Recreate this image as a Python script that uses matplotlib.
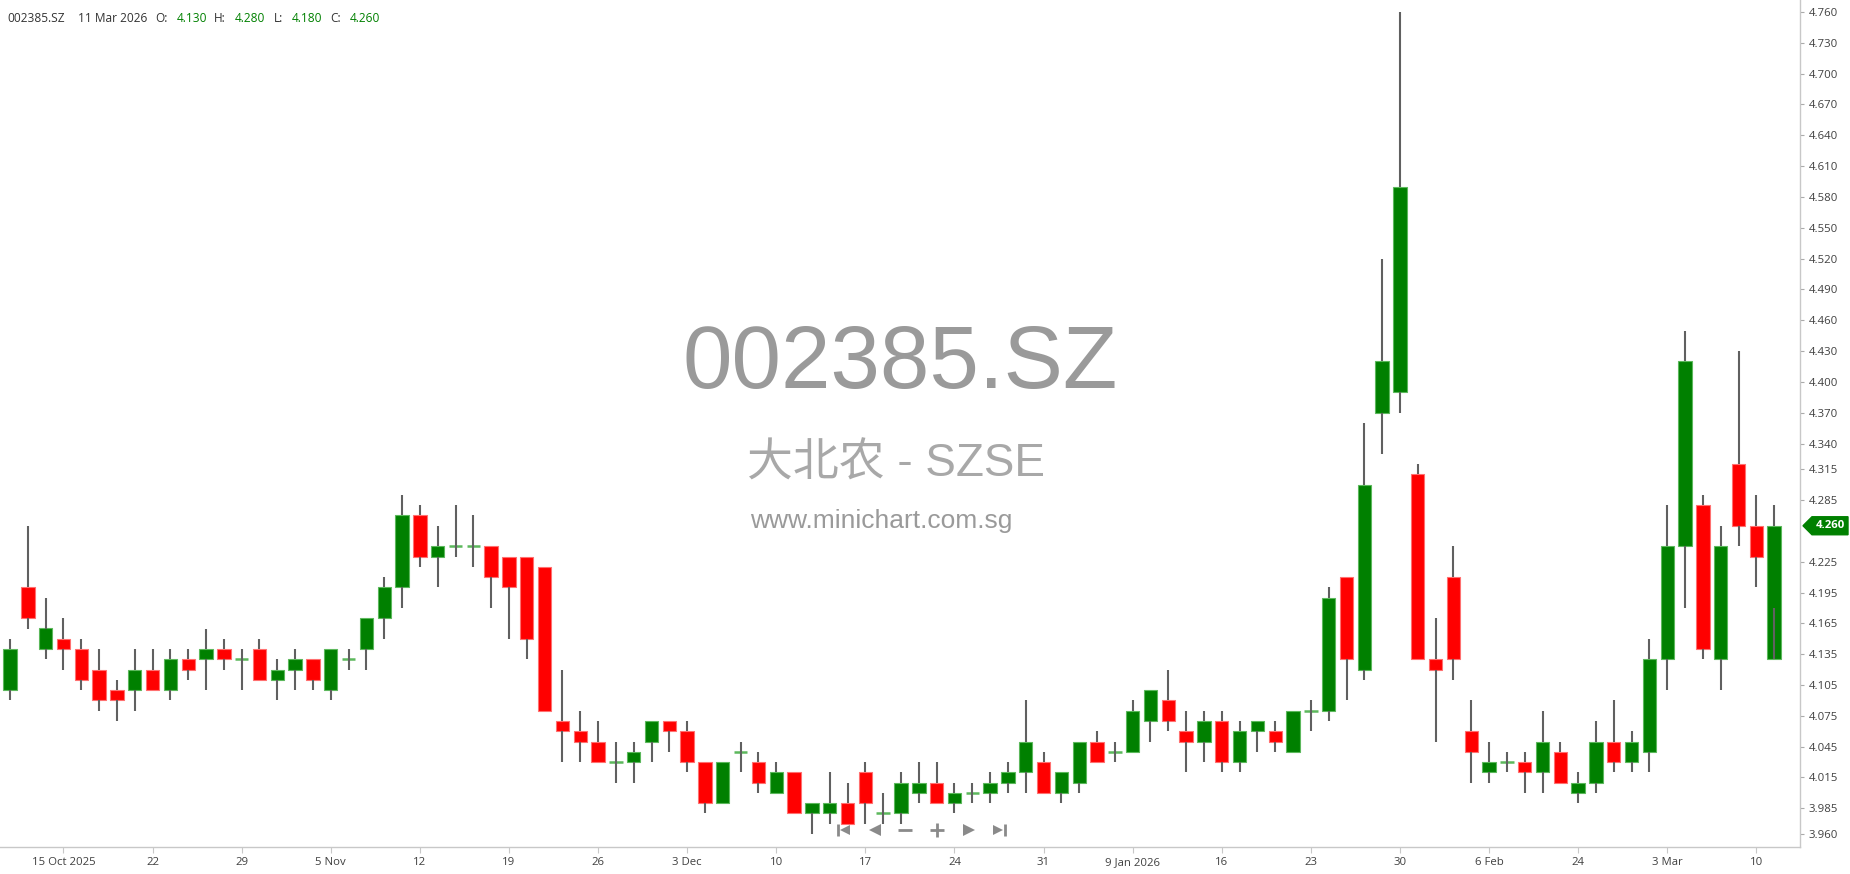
import matplotlib
matplotlib.use("Agg")
import matplotlib.pyplot as plt
import matplotlib.transforms as mtransforms
from matplotlib.patches import Polygon, Rectangle
from matplotlib.lines import Line2D

# ---------------- data ----------------
symbol = "002385.SZ"
company = "大北农 - SZSE"
site = "www.minichart.com.sg"
last_date = "11 Mar 2026"

opens = [4.10, 4.20, 4.14, 4.15, 4.14, 4.12, 4.10, 4.10, 4.12, 4.10,
         4.13, 4.13, 4.14, 4.13, 4.14, 4.11, 4.12, 4.13, 4.10, 4.13,
         4.14, 4.17, 4.20, 4.27, 4.23, 4.24, 4.24, 4.24, 4.23, 4.23,
         4.22, 4.07, 4.06, 4.05, 4.03, 4.03, 4.05, 4.07, 4.06, 4.03,
         3.99, 4.04, 4.03, 4.00, 4.02, 3.98, 3.98, 3.99, 4.02, 3.98,
         3.98, 4.00, 4.01, 3.99, 4.00, 4.00, 4.01, 4.02, 4.03, 4.00,
         4.01, 4.05, 4.04, 4.04, 4.07, 4.09, 4.06, 4.05, 4.07, 4.03,
         4.06, 4.06, 4.04, 4.08, 4.08, 4.21, 4.12, 4.37, 4.39, 4.31,
         4.13, 4.21, 4.06, 4.02, 4.03, 4.03, 4.02, 4.04, 4.00, 4.01,
         4.05, 4.03, 4.04, 4.13, 4.24, 4.28, 4.13, 4.32, 4.26, 4.13]
highs = [4.15, 4.26, 4.19, 4.17, 4.15, 4.14, 4.11, 4.14, 4.14, 4.14,
         4.14, 4.16, 4.15, 4.14, 4.15, 4.13, 4.14, 4.13, 4.14, 4.14,
         4.17, 4.21, 4.29, 4.28, 4.26, 4.28, 4.27, 4.24, 4.23, 4.23,
         4.22, 4.12, 4.08, 4.07, 4.05, 4.05, 4.07, 4.07, 4.07, 4.03,
         4.03, 4.05, 4.04, 4.03, 4.02, 3.99, 4.02, 4.01, 4.03, 4.00,
         4.02, 4.03, 4.03, 4.01, 4.01, 4.02, 4.03, 4.09, 4.04, 4.02,
         4.05, 4.06, 4.05, 4.09, 4.10, 4.12, 4.08, 4.08, 4.08, 4.07,
         4.07, 4.07, 4.08, 4.09, 4.20, 4.21, 4.36, 4.52, 4.76, 4.32,
         4.17, 4.24, 4.09, 4.05, 4.04, 4.04, 4.08, 4.05, 4.02, 4.07,
         4.09, 4.06, 4.15, 4.28, 4.45, 4.29, 4.26, 4.43, 4.29, 4.28]
lows = [4.09, 4.16, 4.13, 4.12, 4.10, 4.08, 4.07, 4.08, 4.10, 4.09,
        4.11, 4.10, 4.12, 4.10, 4.11, 4.09, 4.10, 4.10, 4.09, 4.12,
        4.12, 4.15, 4.18, 4.22, 4.20, 4.23, 4.22, 4.18, 4.15, 4.13,
        4.08, 4.03, 4.03, 4.03, 4.01, 4.01, 4.03, 4.04, 4.02, 3.98,
        3.99, 4.02, 4.00, 4.00, 3.98, 3.96, 3.97, 3.97, 3.97, 3.97,
        3.97, 3.99, 3.99, 3.98, 3.99, 3.99, 4.00, 4.00, 4.00, 3.99,
        4.00, 4.03, 4.03, 4.04, 4.05, 4.06, 4.02, 4.03, 4.02, 4.02,
        4.04, 4.04, 4.04, 4.06, 4.07, 4.09, 4.11, 4.33, 4.37, 4.13,
        4.05, 4.11, 4.01, 4.01, 4.02, 4.00, 4.00, 4.01, 3.99, 4.00,
        4.02, 4.02, 4.02, 4.10, 4.18, 4.13, 4.10, 4.24, 4.20, 4.18]
closes = [4.14, 4.17, 4.16, 4.14, 4.11, 4.09, 4.09, 4.12, 4.10, 4.13,
          4.12, 4.14, 4.13, 4.13, 4.11, 4.12, 4.13, 4.11, 4.14, 4.13,
          4.17, 4.20, 4.27, 4.23, 4.24, 4.24, 4.24, 4.21, 4.20, 4.15,
          4.08, 4.06, 4.05, 4.03, 4.03, 4.04, 4.07, 4.06, 4.03, 3.99,
          4.03, 4.04, 4.01, 4.02, 3.98, 3.99, 3.99, 3.97, 3.99, 3.98,
          4.01, 4.01, 3.99, 4.00, 4.00, 4.01, 4.02, 4.05, 4.00, 4.02,
          4.05, 4.03, 4.04, 4.08, 4.10, 4.07, 4.05, 4.07, 4.03, 4.06,
          4.07, 4.05, 4.08, 4.08, 4.19, 4.13, 4.30, 4.42, 4.59, 4.13,
          4.12, 4.13, 4.04, 4.03, 4.03, 4.02, 4.05, 4.01, 4.01, 4.05,
          4.03, 4.05, 4.13, 4.24, 4.42, 4.14, 4.24, 4.26, 4.23, 4.26]

x_tick_labels = ["15 Oct 2025", "22", "29", "5 Nov", "12", "19", "26", "3 Dec",
                 "10", "17", "24", "31", "9 Jan 2026", "16", "23", "30",
                 "6 Feb", "24", "3 Mar", "10"]
x_tick_first_index = 3
x_tick_step = 5

y_ticks = [4.760, 4.730, 4.700, 4.670, 4.640, 4.610, 4.580, 4.550, 4.520,
           4.490, 4.460, 4.430, 4.400, 4.370, 4.340, 4.315, 4.285, 4.225,
           4.195, 4.165, 4.135, 4.105, 4.075, 4.045, 4.015, 3.985, 3.960]

# last bar header values (as displayed)
hdr_open, hdr_high, hdr_low, hdr_close = 4.130, 4.280, 4.180, 4.260

# ---------------- styling ----------------
UP = "#008000"
UP_EDGE = "#5cb85c"
DOWN = "#ff0000"
DOWN_EDGE = "#ff7070"
WICK = "#606060"
W, H = 1850, 874
DPI = 100

fig = plt.figure(figsize=(W / DPI, H / DPI), dpi=DPI, facecolor="white")
ax_left, ax_right, ax_bottom, ax_top = 0.0, 1800 / W, (H - 847) / H, 1.0
ax = fig.add_axes([ax_left, ax_bottom, ax_right - ax_left, ax_top - ax_bottom])
ax.set_facecolor("white")

n = len(opens)
body_w = 0.75
for i in range(n):
    o, h, l, c = opens[i], highs[i], lows[i], closes[i]
    top, bot = max(o, c), min(o, c)
    up = c >= o
    if abs(c - o) < 1e-9:
        ax.plot([i - body_w / 2, i + body_w / 2], [c, c], color=UP_EDGE,
                lw=1.8, zorder=3, solid_capstyle="butt")
    else:
        ax.add_patch(Rectangle((i - body_w / 2, bot), body_w, top - bot,
                               facecolor=UP if up else DOWN,
                               edgecolor=UP_EDGE if up else DOWN_EDGE,
                               lw=0.8, zorder=2))
    # upper and lower wick segments
    if h > top:
        ax.plot([i, i], [top, h], color=WICK, lw=1.5, zorder=3,
                solid_capstyle="butt")
    if l != bot:
        ax.plot([i, i], [l, bot], color=WICK, lw=1.5, zorder=3,
                solid_capstyle="butt")

ax.set_xlim(-10 / 17.82, (1800 - 10) / 17.82)
ax.set_ylim(4.760 - 835 / 1027.5, 4.760 + 12 / 1027.5)

# axes styling
for s in ["top", "left"]:
    ax.spines[s].set_visible(False)
ax.spines["right"].set_color("#c8c8c8")
ax.spines["bottom"].set_color("#c8c8c8")
ax.spines["right"].set_linewidth(1.0)
ax.spines["bottom"].set_linewidth(1.0)

ax.yaxis.tick_right()
ax.set_yticks(y_ticks)
ax.set_yticklabels([f"{v:.3f}" for v in y_ticks])
ax.tick_params(axis="y", direction="out", length=3, width=0.8, color="#aaaaaa",
               labelsize=8.2, labelcolor="#404040", pad=3)
xt = [x_tick_first_index + x_tick_step * k for k in range(len(x_tick_labels))]
ax.set_xticks(xt)
ax.set_xticklabels(x_tick_labels)
ax.tick_params(axis="x", direction="out", length=4, width=0.8, color="#c8c8c8",
               labelsize=8.2, labelcolor="#404040", pad=3)
for lab in ax.get_xticklabels() + ax.get_yticklabels():
    lab.set_fontfamily("Open Sans")

# watermark
ax.text(0.5, 1 - 365 / 847, symbol, transform=ax.transAxes, ha="center",
        va="center", fontsize=64, color="#9a9a9a", family="Liberation Sans",
        zorder=0)
ax.text(0.498, 1 - 465 / 847, company, transform=ax.transAxes, ha="center",
        va="center", fontsize=33, color="#a8a8a8",
        family=["Liberation Sans", "Noto Sans CJK SC"], zorder=0)
ax.text(0.4895, 1 - 521 / 847, site, transform=ax.transAxes, ha="center",
        va="center", fontsize=19, color="#9a9a9a", family="Liberation Sans",
        zorder=0)

# header
hdr_y = 1 - 18 / H
col_txt = "#333333"
col_val = UP if hdr_close >= hdr_open else DOWN
pieces = [(7, symbol, col_txt), (78, last_date, col_txt),
          (155, "O:", col_txt), (177, f"{hdr_open:.3f}", col_val),
          (214, "H:", col_txt), (235, f"{hdr_high:.3f}", col_val),
          (274, "L:", col_txt), (292, f"{hdr_low:.3f}", col_val),
          (330, "C:", col_txt), (350, f"{hdr_close:.3f}", col_val)]
for px, t, c in pieces:
    fig.text(px / W, hdr_y, t, ha="left", va="center", fontsize=8.6,
             color=c, family="Open Sans")

# current price tag
trans = mtransforms.blended_transform_factory(fig.transFigure, ax.transData)
last = closes[-1]
dh = 9 / 1027.5
tag = Polygon([(1803 / W, last), (1812 / W, last + dh), (1848 / W, last + dh),
               (1848 / W, last - dh), (1812 / W, last - dh)], closed=True,
              transform=trans, facecolor=UP, edgecolor=UP, clip_on=False,
              zorder=5)
fig.add_artist(tag)
fig.text(1830 / W, last, f"{last:.3f}", transform=trans, ha="center",
         va="center", fontsize=8.2, color="white", fontweight="bold",
         family="Open Sans", zorder=6)

# navigation icons
nav_y = (H - 830) / H
gray = "#8a8a8a"
def mk(x, m, ms, mew=1.5):
    fig.add_artist(Line2D([x / W], [nav_y], marker=m, markersize=ms,
                          color=gray, markeredgewidth=mew,
                          transform=fig.transFigure, linestyle="none"))
mk(838, "|", 9, 2); mk(845, "<", 7, 0)
mk(875, "<", 8, 0)
mk(905, "_", 10, 2)
mk(937, "+", 10, 2)
mk(969, ">", 8, 0)
mk(998, ">", 7, 0); mk(1005, "|", 9, 2)

fig.savefig("out.png", dpi=DPI, facecolor="white")
